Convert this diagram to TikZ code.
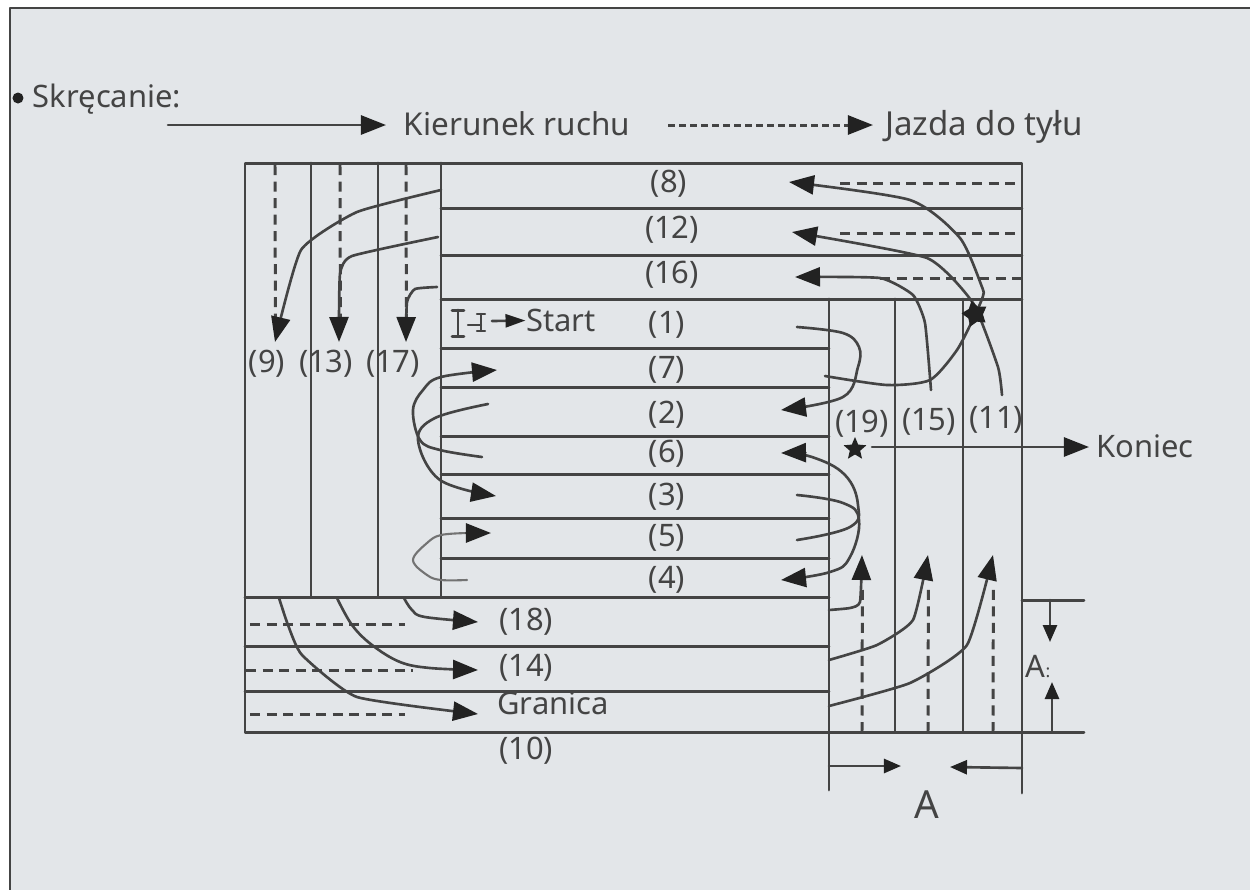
\documentclass[tikz,border=0pt]{standalone}
\usepackage{fontspec}
\setmainfont{Noto Sans}
\usetikzlibrary{arrows.meta,shapes.geometric}
\definecolor{tlo}{HTML}{E3E6E9}
\definecolor{kreska}{HTML}{444444}
\definecolor{grot}{HTML}{222222}
\tikzset{
	opis/.style={text=kreska, font=\fontsize{8.8}{10}\selectfont, inner sep=0pt, yshift=-0.02cm},
	siatka/.style={draw=kreska, line width=0.85pt},
	cofanie/.style={draw=kreska, line width=0.85pt, line cap=butt, dash pattern=on 0.1cm off 0.065cm},
	ruch/.style={draw=kreska, line width=0.75pt, -{Triangle[length=0.25cm,width=0.19cm,fill=grot,color=grot]}},
	wymiar/.style={draw=kreska, line width=0.75pt, -{Triangle[length=0.17cm,width=0.14cm,fill=grot,color=grot]}},
	gwiazdka/.style={star, star points=5, star point ratio=2.2, fill=grot, inner sep=0pt, minimum size=0.24cm}
}
\begin{document}
\begin{tikzpicture}[x=0.01cm, y=-0.01cm, >=stealth, line join=round, line cap=round]
	\useasboundingbox (0,0) rectangle (1250,890);
	\fill[tlo] (10,8) rectangle (1250,890);
	\draw[draw=kreska, line width=0.75pt] (10,890) -- (10,8) -- (1250,8);
	% legenda
	\fill[grot] (18,98) circle (5.5);
	\node[opis] (skrecanie) at (107,97) {Skręcanie:};
	\node[opis, font=\fontsize{8.95}{10}\selectfont] (kierunek) at (517,122) {Kierunek ruchu};
	\node[opis, font=\fontsize{9.4}{10}\selectfont] (jazda) at (984,125) {Jazda do tyłu};
	\coordinate (legenda1) at (168,125);
	\coordinate (legenda2) at (668,125);
	\draw[ruch] (legenda1) -- (386,125);
	\draw[cofanie, dash pattern=on 0.07cm off 0.04cm] (legenda2) -- (850,125);
	\draw[ruch] (846,125) -- (873,125);
	% siatka
	\draw[siatka] (245,163) rectangle (1022,732);
	\draw[siatka] (311,163) -- (311,597);
	\draw[siatka] (378,163) -- (378,597);
	\draw[siatka] (441,163) -- (441,597);
	\draw[siatka] (441,208) -- (1022,208);
	\draw[siatka] (441,255) -- (1022,255);
	\draw[siatka] (441,299) -- (1022,299);
	\draw[siatka] (441,348) -- (829,348);
	\draw[siatka] (441,387) -- (829,387);
	\draw[siatka] (441,436) -- (829,436);
	\draw[siatka] (441,474) -- (829,474);
	\draw[siatka] (441,518) -- (829,518);
	\draw[siatka] (441,558) -- (829,558);
	\draw[siatka] (245,597) -- (829,597);
	\draw[siatka] (245,646) -- (829,646);
	\draw[siatka] (245,691) -- (829,691);
	\draw[siatka] (829,299) -- (829,790);
	\draw[siatka] (895,299) -- (895,732);
	\draw[siatka] (963,299) -- (963,732);
	\draw[siatka] (1022,732) -- (1022,793);
	\draw[siatka] (1022,732) -- (1084,732);
	\draw[siatka] (1022,600) -- (1084,600);
	% jazda do tylu
	\draw[cofanie] (275,165) -- (275.4,320);
	\draw[cofanie] (340,165) -- (340.4,320);
	\draw[cofanie] (406,165) -- (406.4,320);
	\draw[cofanie] (840,183) -- (1022,183);
	\draw[cofanie] (840,233) -- (1022,233);
	\draw[cofanie] (880,278) -- (1022,278);
	\draw[cofanie] (250,624) -- (405,624);
	\draw[cofanie] (246,670) -- (413,670);
	\draw[cofanie] (250,714) -- (405,714);
	\draw[cofanie] (862,732) -- (862.4,585);
	\draw[cofanie] (928,732) -- (928.4,585);
	\draw[cofanie] (993,732) -- (993.4,585);
	% kierunek ruchu
	\draw[ruch] plot[smooth, tension=0.3] coordinates {(441,190) (357,212) (301,250) (275,342)};
	\draw[ruch] plot[smooth, tension=0.3] coordinates {(438,237) (352,256) (340,274) (339,342)};
	\draw[ruch] plot[smooth, tension=0.3] coordinates {(437,287) (415,289) (407,302) (406,342)};
	\draw[ruch] plot[smooth, tension=0.4] coordinates {(825,376) (887,385) (930,380) (957,350) (975,315) (983,296) (982,287) (960,238) (910,200) (789,182)};
	\draw[ruch] plot[smooth, tension=0.3] coordinates {(1002,395) (998,367) (973,303) (927,258) (792,232)};
	\draw[ruch] plot[smooth, tension=0.3] coordinates {(931,390) (925,323) (913,295) (880,278) (795,277)};
	\draw[ruch] plot[smooth, tension=0.6] coordinates {(797,327) (843,333) (859,347) (858,367) (843,397) (781,410)};
	\draw[ruch] plot[smooth, tension=0.6] coordinates {(482,457) (440,450) (420,440) (413,410) (423,390) (441,377) (497,370)};
	\draw[ruch] plot[smooth, tension=0.6] coordinates {(488,404) (435,418) (418,440) (440,480) (496,496)};
	\draw[draw=black!55, line width=0.6pt] plot[smooth, tension=0.6] coordinates {(467,580) (441,580) (427,575) (413,560) (427,543) (441,535) (468,533)};
	\draw[ruch] (466,533) -- (491,533);
	\draw[ruch] plot[smooth, tension=0.7] coordinates {(797,495) (843,503) (859,520) (850,557) (830,572) (781,580)};
	\draw[ruch] plot[smooth, tension=0.7] coordinates {(797,540) (850,527) (858,505) (845,475) (812,457) (781,453)};
	\draw[ruch] plot[smooth, tension=0.3] coordinates {(829,610) (850,608) (860,602) (862,555)};
	\draw[ruch] plot[smooth, tension=0.3] coordinates {(829,660) (877,645) (913,620) (928,555)};
	\draw[ruch] plot[smooth, tension=0.3] coordinates {(829,706) (910,683) (967,645) (993,555)};
	\draw[ruch] plot[smooth, tension=0.6] coordinates {(404,598) (412,610) (425,617) (478,622)};
	\draw[ruch] plot[smooth, tension=0.6] coordinates {(337,598) (352,625) (372,645) (400,662) (430,668) (478,670)};
	\draw[ruch] plot[smooth, tension=0.3] coordinates {(279,598) (288,625) (302,655) (357,697) (478,714)};
	\node[gwiazdka, rotate=15, star point ratio=1.7, minimum size=0.27cm] (gwiazda1) at (975,314) {};
	% start
	\draw[siatka] (452,310) -- (464,310) (458,310) -- (458,336) (452,336) -- (464,336);
	\draw[siatka, line width=0.6pt] (468,325) -- (481,325) (477,314) -- (485,314) (481,314) -- (481,331) (477,331) -- (485,331);
	\node[opis] (start) at (561,318) {Start};
	\coordinate (startlewy) at (492,321);
	\draw[ruch, -{Triangle[length=0.2cm,width=0.13cm,fill=grot,color=grot]}] (startlewy) -- (start);
	% numery
	\node[opis] (n8) at (669,182) {(8)};
	\node[opis] (n12) at (672,228) {(12)};
	\node[opis] (n16) at (672,273) {(16)};
	\node[opis] (n1) at (667,323) {(1)};
	\node[opis] (n7) at (667,368) {(7)};
	\node[opis] (n2) at (667,413) {(2)};
	\node[opis] (n6) at (667,452) {(6)};
	\node[opis] (n3) at (667,495) {(3)};
	\node[opis] (n5) at (667,536) {(5)};
	\node[opis] (n4) at (667,578) {(4)};
	\node[opis] (n9) at (267,362) {(9)};
	\node[opis] (n13) at (326,362) {(13)};
	\node[opis] (n17) at (393,362) {(17)};
	\node[opis] (n19) at (862,422) {(19)};
	\node[opis] (n15) at (929,420) {(15)};
	\node[opis] (n11) at (996,418) {(11)};
	\node[opis] (n18) at (526,620) {(18)};
	\node[opis] (n14) at (526,666) {(14)};
	\node[opis] (granica) at (553,701) {Granica};
	\node[opis] (n10) at (526,749) {(10)};
	% koniec
	\node[gwiazdka] (gwiazda2) at (855,449) {};
	\node[opis] (koniec) at (1145,444) {Koniec};
	\coordinate (gwiazda2prawy) at (872,447);
	\draw[ruch] (gwiazda2prawy) -- (1089,447);
	% wymiary
	\node[opis] (wymiarbok) at (1038,665) {A{\tiny:}};
	\draw[wymiar] (1050,600) -- (1050,642);
	\draw[wymiar] (1052,732) -- (1052,682);
	\node[opis, font=\fontsize{11}{13}\selectfont] (wymiardol) at (927,803) {A};
	\draw[wymiar] (829,766) -- (901,766);
	\draw[wymiar] (1022,768) -- (950,767);
\end{tikzpicture}
\end{document}
